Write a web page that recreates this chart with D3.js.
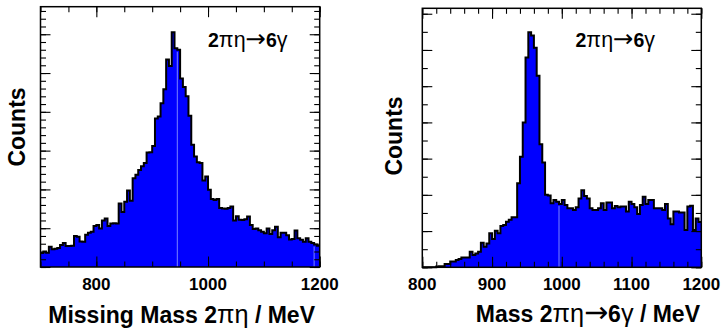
<!DOCTYPE html>
<html>
<head>
<meta charset="utf-8">
<script src="https://cdn.jsdelivr.net/npm/d3@7"></script>
<style>
  body { margin: 0; background: #fff; }
  text { font-family: "Liberation Sans", Arial, sans-serif; font-weight: bold; fill: #000; }
  .greek { font-weight: normal; font-size: 1.1em; }
  .arrow { font-weight: normal; font-family: "DejaVu Sans", sans-serif; font-size: 1.25em; }
</style>
</head>
<body>
<script>
// Left histogram: missing mass, 5 MeV bins from 700 MeV
var leftLow = 700, leftBinWidth = 5;
var leftCounts = [
  36, 40, 37, 52, 46, 47, 49, 57, 62, 54,
  54, 55, 80, 78, 66, 65, 83, 88, 91, 106,
  108, 99, 120, 125, 106, 112, 113, 112, 164, 142,
  168, 197, 171, 229, 238, 250, 260, 268, 295, 296,
  312, 383, 388, 422, 458, 535, 518, 605, 564, 560,
  486, 464, 440, 390, 315, 285, 270, 268, 223, 233,
  199, 175, 173, 175, 152, 151, 150, 152, 156, 120,
  131, 122, 121, 123, 130, 108, 98, 99, 95, 91,
  87, 99, 85, 95, 104, 77, 88, 88, 82, 71,
  72, 94, 74, 70, 65, 74, 65, 62, 58, 55
];
var leftTickLabels = [800, 1000, 1200];
var leftSeams = [945, 1190];

// Right histogram: invariant mass, 4 MeV bins from 800 MeV
var rightLow = 800, rightBinWidth = 4;
var rightCounts = [
  0, 0, 0, 0, 0, 2, 3, 3, 9, 9,
  16, 16, 20, 23, 27, 27, 27, 43, 34, 38,
  43, 68, 57, 66, 94, 78, 101, 94, 114, 117,
  126, 131, 138, 138, 232, 305, 400, 579, 649, 640,
  606, 529, 340, 289, 200, 198, 177, 186, 181, 175,
  186, 172, 163, 163, 158, 166, 190, 213, 197, 190,
  163, 158, 158, 163, 177, 158, 179, 179, 163, 169,
  166, 168, 168, 154, 181, 175, 166, 147, 172, 195,
  175, 186, 186, 163, 163, 163, 158, 175, 135, 119,
  154, 154, 151, 151, 103, 168, 170, 103, 135, 125
];
var rightTickLabels = [800, 900, 1000, 1100, 1200];
var rightSeams = [996];

// text pieces: [text, kind] where kind is "" (bold latin), "g" (greek) or "a" (arrow)
var reactionLabel = [["2", ""], ["πη", "g"], ["→", "a"], ["6", ""], ["γ", "g"]];
var leftXTitle = [["Missing Mass 2", ""], ["πη", "g"], [" / MeV", ""]];
var rightXTitle = [["Mass 2", ""], ["πη", "g"], ["→", "a"], ["6", ""], ["γ", "g"], [" / MeV", ""]];

var svg = d3.select("body").append("svg")
  .attr("width", 723)
  .attr("height", 330);

// rich text helper
function rich(sel, parts) {
  parts.forEach(function (pt) {
    sel.append("tspan")
      .attr("class", pt[1] === "g" ? "greek" : pt[1] === "a" ? "arrow" : null)
      .text(pt[0]);
  });
  return sel;
}

function drawPanel(p) {
  var x = d3.scaleLinear().domain(p.xDomain).range([p.left, p.right]);
  var y = d3.scaleLinear().domain(p.yDomain).range([p.bottom, p.top]);
  var g = svg.append("g");

  // bin edges -> step points
  var pts = p.counts.map(function (c, i) {
    return { e: p.low + i * p.binWidth, c: c };
  });
  pts.push({ e: p.low + p.counts.length * p.binWidth, c: p.counts[p.counts.length - 1] });

  var area = d3.area()
    .curve(d3.curveStepAfter)
    .x(function (d) { return x(d.e); })
    .y0(y(0))
    .y1(function (d) { return y(d.c); });

  var line = d3.line()
    .curve(d3.curveStepAfter)
    .x(function (d) { return x(d.e); })
    .y(function (d) { return y(d.c); });

  g.append("path")
    .attr("d", area(pts))
    .attr("fill", "#0000ff");

  // faint seams in the fill
  p.seams.forEach(function (s) {
    var i = Math.round((s - p.low) / p.binWidth);
    var top = Math.min(p.counts[i - 1], p.counts[i]);
    g.append("line")
      .attr("x1", x(s)).attr("x2", x(s))
      .attr("y1", y(0)).attr("y2", y(top) + 2)
      .attr("stroke", "#9aa6ff")
      .attr("stroke-width", 0.8);
  });

  g.append("path")
    .attr("d", line(pts))
    .attr("fill", "none")
    .attr("stroke", "#000")
    .attr("stroke-width", 2);

  // ticks on all four sides, pointing inward
  function ticks(axis, values, size, tr) {
    var a = g.append("g")
      .attr("transform", tr)
      .call(axis.tickValues(values).tickSize(-size).tickFormat(""));
    a.select(".domain").remove();
    a.selectAll("line").attr("stroke", "#000").attr("stroke-width", 1.1);
  }
  var xMinor = d3.range(p.xDomain[0], p.xDomain[1] + 0.1, p.xMinor);
  var xMajor = xMinor.filter(function (v) { return Math.abs(v % p.xMajor) < 1e-6; });
  var yMinor = d3.range(0, p.yDomain[1], p.yMinor);
  var yMajor = yMinor.filter(function (v) { return Math.abs(v % p.yMajor) < 1e-6; });

  ticks(d3.axisBottom(x), xMinor, 5.5, "translate(0," + p.bottom + ")");
  ticks(d3.axisBottom(x), xMajor, 10.5, "translate(0," + p.bottom + ")");
  ticks(d3.axisTop(x), xMinor, 5.5, "translate(0," + p.top + ")");
  ticks(d3.axisTop(x), xMajor, 10.5, "translate(0," + p.top + ")");
  ticks(d3.axisLeft(y), yMinor, 5.5, "translate(" + p.left + ",0)");
  ticks(d3.axisLeft(y), yMajor, 10, "translate(" + p.left + ",0)");
  ticks(d3.axisRight(y), yMinor, 5.5, "translate(" + p.right + ",0)");
  ticks(d3.axisRight(y), yMajor, 10, "translate(" + p.right + ",0)");

  // frame
  g.append("rect")
    .attr("x", p.left).attr("y", p.top)
    .attr("width", p.right - p.left).attr("height", p.bottom - p.top)
    .attr("fill", "none")
    .attr("stroke", "#000")
    .attr("stroke-width", 1.5);

  // tick labels
  g.selectAll(".tl").data(p.tickLabels).enter().append("text")
    .attr("x", function (d) { return x(d); })
    .attr("y", 290)
    .attr("text-anchor", "middle")
    .style("font-size", "17px")
    .text(function (d) { return d; });

  rich(g.append("text")
    .attr("x", p.xTitleX).attr("y", p.xTitleY)
    .attr("text-anchor", "end")
    .style("font-size", "23px"), p.xTitle);

  g.append("text")
    .attr("transform", "translate(" + p.yTitleX + "," + p.yTitleY + ") rotate(-90)")
    .attr("text-anchor", "middle")
    .style("font-size", "23px")
    .text("Counts");

  rich(g.append("text")
    .attr("x", p.labelX).attr("y", 46.7)
    .style("font-size", "19.5px"), reactionLabel);
}

drawPanel({
  counts: leftCounts, low: leftLow, binWidth: leftBinWidth,
  xDomain: [700, 1200], yDomain: [0, 671],
  left: 40.5, right: 319.7, top: 6.7, bottom: 267,
  xMinor: 50, xMajor: 200, yMinor: 20, yMajor: 100,
  tickLabels: leftTickLabels, seams: leftSeams,
  xTitle: leftXTitle,
  xTitleX: 315, xTitleY: 323,
  yTitleX: 25, yTitleY: 127,
  labelX: 208
});

drawPanel({
  counts: rightCounts, low: rightLow, binWidth: rightBinWidth,
  xDomain: [800, 1200], yDomain: [0, 715],
  left: 422.3, right: 701.3, top: 8.3, bottom: 267.3,
  xMinor: 20, xMajor: 100, yMinor: 50, yMajor: 100,
  tickLabels: rightTickLabels, seams: rightSeams,
  xTitle: rightXTitle,
  xTitleX: 700, xTitleY: 322,
  yTitleX: 401.7, yTitleY: 136,
  labelX: 575.5
});
</script>
</body>
</html>
